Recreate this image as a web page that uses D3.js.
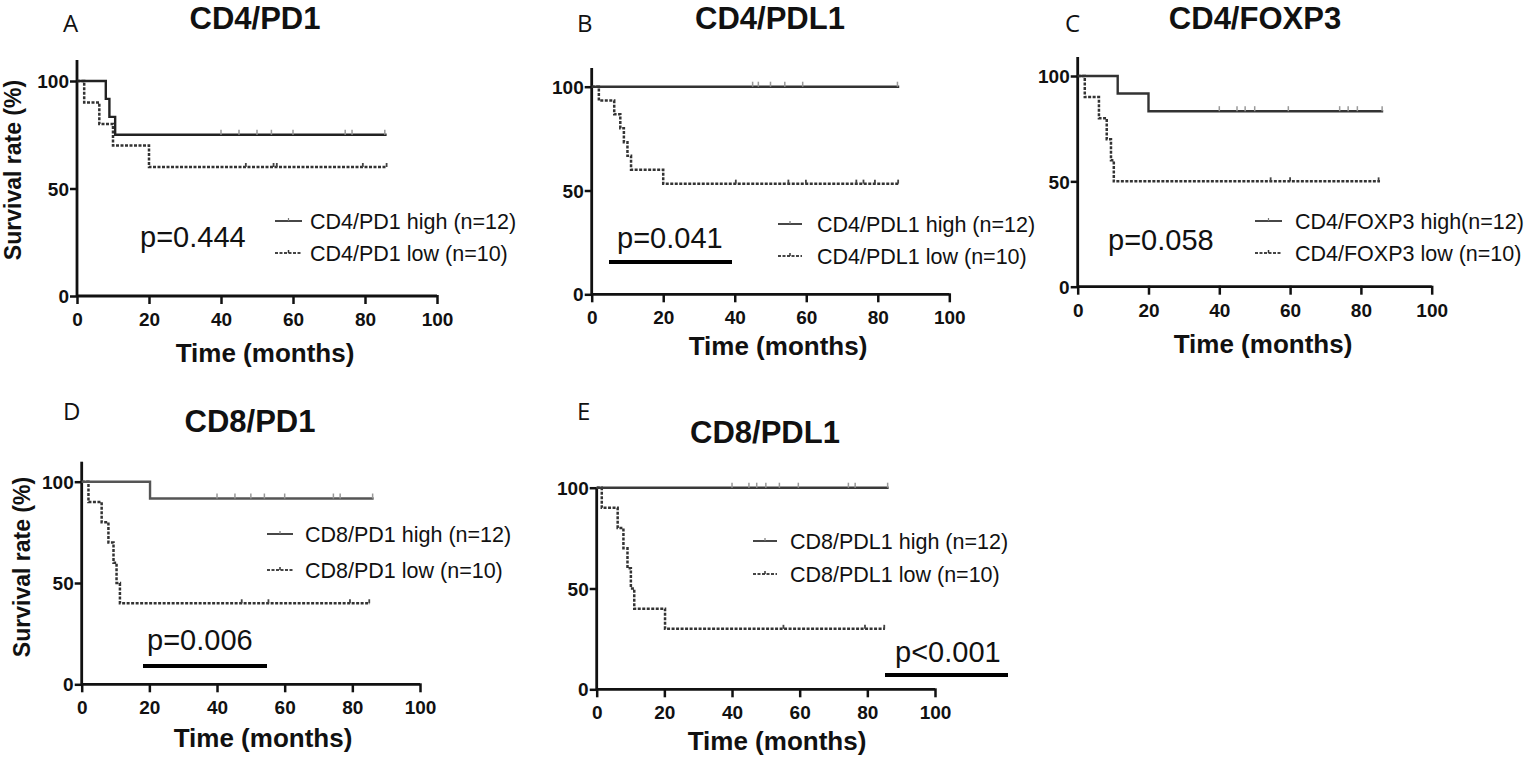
<!DOCTYPE html>
<html>
<head>
<meta charset="utf-8">
<script src="https://cdn.jsdelivr.net/npm/d3@7"></script>
<style>
  html, body { margin: 0; padding: 0; background: #fff; }
  svg { display: block; }
</style>
</head>
<body>
<svg id="chart" width="1535" height="759"></svg>
<script>
// ---------------- DATA ----------------
const panelLetters = ["A", "B", "C", "D", "E"];
const panelTitles = ["CD4/PD1", "CD4/PDL1", "CD4/FOXP3", "CD8/PD1", "CD8/PDL1"];
const pValues = ["p=0.444", "p=0.041", "p=0.058", "p=0.006", "p<0.001"];
const highLabels = ["CD4/PD1 high (n=12)", "CD4/PDL1 high (n=12)", "CD4/FOXP3 high(n=12)", "CD8/PD1 high (n=12)", "CD8/PDL1 high (n=12)"];
const lowLabels = ["CD4/PD1 low (n=10)", "CD4/PDL1 low (n=10)", "CD4/FOXP3 low (n=10)", "CD8/PD1 low (n=10)", "CD8/PDL1 low (n=10)"];
const xTicks = [0, 20, 40, 60, 80, 100];
const yTicks = [0, 50, 100];
const xTitle = "Time (months)";
const yTitle = "Survival rate (%)";

// step curves: [time, survival %]
const highSteps = [
  [[0, 100], [8, 91.7], [9, 83.3], [10.6, 75]],
  [[0, 100]],
  [[0, 100], [11.3, 91.7], [20, 83.3]],
  [[0, 100], [20.2, 91.7]],
  [[0, 100]]
];
const highEnd = [86, 86, 86.3, 86.3, 86.3];
const highCensor = [
  [40, 45, 50, 54, 60, 74.5, 76.4, 85.5],
  [45, 46.6, 50, 54, 59, 85.5],
  [40, 45, 47.3, 50, 59.5, 74, 76.4, 79, 86],
  [40, 45.3, 50, 54, 60, 74.4, 76.4, 86],
  [40, 45, 47.3, 50, 54, 59.6, 74.4, 76.4, 86]
];
const lowSteps = [
  [[0, 100], [2, 90], [6.2, 80], [10, 70], [20, 60]],
  [[0, 100], [2, 93.3], [6.3, 86.7], [8, 80], [9, 73.3], [10, 66.7], [11, 60], [20, 53.3]],
  [[0, 100], [2, 90], [6, 80], [8.2, 70], [9.4, 60], [10.2, 50]],
  [[0, 100], [2, 90], [5.9, 80], [7.9, 70], [9.4, 60], [10.3, 50], [11.3, 40]],
  [[0, 100], [1.5, 90], [6.2, 80], [7.9, 70], [9.1, 60], [10.1, 50], [11.1, 40], [20.2, 30]]
];
const lowEnd = [86.1, 85.8, 85.4, 85.2, 85.2];
const lowCensor = [
  [46.9, 54.6, 55.5, 79.4, 86],
  [40.3, 55, 59.9, 74, 76, 79.2, 85.7],
  [54.5, 60, 85],
  [47.3, 55.2, 79.3, 85],
  [55.2, 79.3, 85]
];

// ---------------- LAYOUT (pixels / styles) ----------------
const layout = [
  { x: [77, 437], y: [296, 81], top: 60, title: [255, 29], letter: [63, 32], xlab: [265, 362], ylab: [13, 170],
    p: [140, 247], ul: null, leg: [275, 302, 310], legY: [221, 253], highColor: "#222" },
  { x: [591.7, 949.3], y: [294.3, 86.7], top: 68, title: [770, 29], letter: [577, 32], xlab: [778, 355], ylab: null,
    p: [617, 248], ul: [609, 732, 262], leg: [778, 802, 817], legY: [224, 256], highColor: "#333" },
  { x: [1077.7, 1431.7], y: [286.7, 76], top: 57, title: [1255, 29], letter: [1065, 32], xlab: [1263, 353], ylab: null,
    p: [1108, 250], ul: null, leg: [1255, 1282, 1295], legY: [221, 253], highColor: "#333" },
  { x: [81.7, 420], y: [684.3, 481.7], top: 461.7, title: [250, 432], letter: [63, 420], xlab: [263, 747], ylab: [22, 567],
    p: [147, 650], ul: [143, 267, 666], leg: [267, 293, 305], legY: [534, 570], highColor: "#555" },
  { x: [596.7, 935], y: [689.3, 487.7], top: 487.7, title: [765, 443], letter: [577, 420], xlab: [777, 750], ylab: null,
    p: [895, 662], ul: [885, 1008, 675], leg: [753, 777, 790], legY: [541, 574], highColor: "#3a3a3a" }
];

const svg = d3.select("#chart");
const sans = "'Liberation Sans', Arial, Helvetica, sans-serif";

panelTitles.forEach((title, i) => {
  const L = layout[i];
  const g = svg.append("g");
  const x = d3.scaleLinear().domain([0, 100]).range(L.x);
  const y = d3.scaleLinear().domain([0, 100]).range(L.y);

  // letter
  g.append("text").attr("x", L.letter[0]).attr("y", L.letter[1])
    .attr("font-family", "'Open Sans', 'Noto Sans', sans-serif").attr("font-size", 24)
    .attr("fill", "#111").text(panelLetters[i]);
  // title
  g.append("text").attr("x", L.title[0]).attr("y", L.title[1]).attr("text-anchor", "middle")
    .attr("font-family", sans).attr("font-weight", "bold").attr("font-size", 31)
    .attr("fill", "#111").text(title);

  // axes
  const xAxis = d3.axisBottom(x).tickValues(xTicks).tickSize(8).tickFormat(d3.format("d"));
  const gx = g.append("g").attr("transform", `translate(0,${L.y[0]})`).call(xAxis);
  gx.select(".domain").remove();
  gx.selectAll(".tick line").attr("stroke", "#111").attr("stroke-width", 2.5).attr("y1", -1);
  gx.selectAll(".tick text").attr("font-family", sans).attr("font-weight", "bold")
    .attr("font-size", 19).attr("fill", "#111").attr("dy", null).attr("y", 30);

  const yAxis = d3.axisLeft(y).tickValues(yTicks).tickSize(7).tickFormat(d3.format("d"));
  const gy = g.append("g").attr("transform", `translate(${L.x[0]},0)`).call(yAxis);
  gy.select(".domain").remove();
  gy.selectAll(".tick line").attr("stroke", "#111").attr("stroke-width", 2.5);
  gy.selectAll(".tick text").attr("font-family", sans).attr("font-weight", "bold")
    .attr("font-size", 19).attr("fill", "#111").attr("x", -8).attr("dy", "0.35em");

  // axis lines
  g.append("line").attr("x1", L.x[0]).attr("x2", L.x[1]).attr("y1", L.y[0]).attr("y2", L.y[0])
    .attr("stroke", "#111").attr("stroke-width", 2.8);
  g.append("line").attr("x1", L.x[0]).attr("x2", L.x[0]).attr("y1", L.top).attr("y2", L.y[0] + 1)
    .attr("stroke", "#111").attr("stroke-width", 2.8);

  // titles
  g.append("text").attr("x", L.xlab[0]).attr("y", L.xlab[1]).attr("text-anchor", "middle")
    .attr("font-family", sans).attr("font-weight", "bold").attr("font-size", 26)
    .attr("fill", "#111").text(xTitle);
  if (L.ylab) {
    g.append("text").attr("transform", `translate(${L.ylab[0] + 8},${L.ylab[1]}) rotate(-90)`)
      .attr("text-anchor", "middle").attr("font-family", sans).attr("font-weight", "bold")
      .attr("font-size", 23).attr("fill", "#111").text(yTitle);
  }

  // curves
  const line = d3.line().x(d => x(d[0])).y(d => y(d[1])).curve(d3.curveStepAfter);
  const hs = highSteps[i].concat([[highEnd[i], highSteps[i][highSteps[i].length - 1][1]]]);
  const ls = lowSteps[i].concat([[lowEnd[i], lowSteps[i][lowSteps[i].length - 1][1]]]);

  g.append("path").attr("d", line(ls)).attr("fill", "none").attr("stroke", "#333")
    .attr("stroke-width", 2.5).attr("stroke-dasharray", "3,1.5");
  g.append("path").attr("d", line(hs)).attr("fill", "none").attr("stroke", L.highColor)
    .attr("stroke-width", 2.4);

  const hLast = highSteps[i][highSteps[i].length - 1][1];
  const lLast = lowSteps[i][lowSteps[i].length - 1][1];
  g.selectAll(null).data(highCensor[i]).enter().append("line")
    .attr("x1", d => x(d)).attr("x2", d => x(d)).attr("y1", y(hLast)).attr("y2", y(hLast) - 5)
    .attr("stroke", "#999").attr("stroke-width", 1.5);
  g.selectAll(null).data(lowCensor[i]).enter().append("line")
    .attr("x1", d => x(d)).attr("x2", d => x(d)).attr("y1", y(lLast)).attr("y2", y(lLast) - 4)
    .attr("stroke", "#444").attr("stroke-width", 1.8);

  // p value
  g.append("text").attr("x", L.p[0]).attr("y", L.p[1]).attr("font-family", sans)
    .attr("font-size", 29).attr("fill", "#111").text(pValues[i]);
  if (L.ul) {
    g.append("line").attr("x1", L.ul[0]).attr("x2", L.ul[1]).attr("y1", L.ul[2]).attr("y2", L.ul[2])
      .attr("stroke", "#000").attr("stroke-width", 4);
  }

  // legend
  const mid = (L.leg[0] + L.leg[1]) / 2;
  g.append("line").attr("x1", L.leg[0]).attr("x2", L.leg[1]).attr("y1", L.legY[0]).attr("y2", L.legY[0])
    .attr("stroke", "#333").attr("stroke-width", 1.8);
  g.append("line").attr("x1", mid).attr("x2", mid)
    .attr("y1", L.legY[0]).attr("y2", L.legY[0] - 3).attr("stroke", "#777").attr("stroke-width", 1.2);
  g.append("line").attr("x1", L.leg[0]).attr("x2", L.leg[1]).attr("y1", L.legY[1]).attr("y2", L.legY[1])
    .attr("stroke", "#444").attr("stroke-width", 1.8).attr("stroke-dasharray", "3,1.5");
  g.append("line").attr("x1", mid).attr("x2", mid)
    .attr("y1", L.legY[1]).attr("y2", L.legY[1] - 3).attr("stroke", "#333").attr("stroke-width", 1.5);
  g.append("text").attr("x", L.leg[2]).attr("y", L.legY[0] + 8).attr("font-family", sans)
    .attr("font-size", 21.5).attr("fill", "#111").text(highLabels[i]);
  g.append("text").attr("x", L.leg[2]).attr("y", L.legY[1] + 8).attr("font-family", sans)
    .attr("font-size", 21.5).attr("fill", "#111").text(lowLabels[i]);
});
</script>
</body>
</html>
